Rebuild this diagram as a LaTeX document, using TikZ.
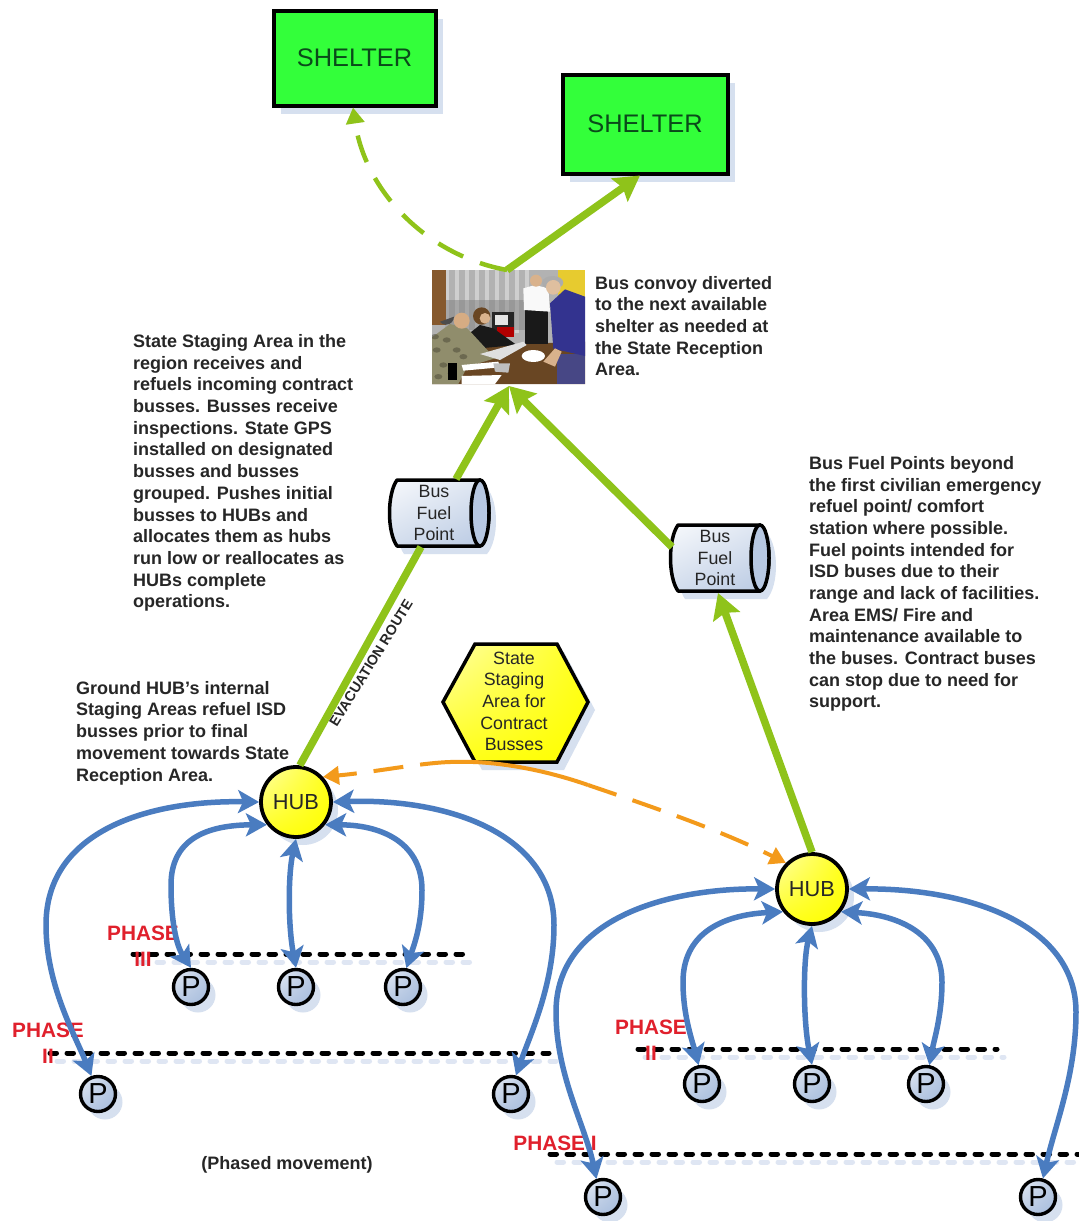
\documentclass[tikz,border=0pt]{standalone}
\usepackage{fontspec}
\setmainfont{Liberation Sans}
\usetikzlibrary{shapes.geometric,shadows,shadings,arrows.meta,calc}
\definecolor{shadowblue}{HTML}{D6E0EF}
\definecolor{dashshadow}{HTML}{DFE6F3}
\definecolor{routegreen}{HTML}{8FC31A}
\definecolor{flowblue}{HTML}{4A7CC0}
\definecolor{flagorange}{HTML}{F39A1B}
\definecolor{phasered}{HTML}{E0202C}
\definecolor{inktext}{HTML}{262626}
\definecolor{shelterfill}{HTML}{33FF3A}
\definecolor{shelterink}{HTML}{0A4A1A}
\definecolor{cylend}{HTML}{B7C8E2}
\tikzset{
  shd/.style={drop shadow={shadow xshift=7pt,shadow yshift=-8pt,fill=shadowblue,opacity=1}},
  shelterbox/.style={rectangle,draw=black,line width=4pt,fill=shelterfill,inner sep=0pt,text=shelterink,
    font=\fontsize{25.4}{28}\selectfont,shd},
  hubnode/.style={circle,draw=black,line width=3.8pt,minimum size=70pt,inner sep=0pt,text=inktext,shd,
    upper left=yellow!35!white,upper right=yellow!90!white,lower left=yellow!90!white,lower right=yellow,
    font=\fontsize{21.8}{24}\selectfont},
  pnode/.style={circle,draw=black,line width=3.4pt,minimum size=35pt,inner sep=0pt,text=black,shd,
    upper left=cylend!35!white,upper right=cylend,lower left=cylend,lower right=cylend!85!flowblue,
    font=\fontsize{29}{30}\selectfont},
  cylbody/.style={draw=black,line width=3.5pt,line join=round,shd,
    upper left=cylend!10!white,upper right=cylend!50!white,lower left=cylend!60!white,lower right=cylend},
  cylcap/.style={fill=cylend,draw=black,line width=3.5pt},
  celltext/.style={align=center,text=inktext,font=\fontsize{17.8}{21.67}\selectfont,inner sep=0pt},
  notetext/.style={align=left,anchor=west,inner sep=0pt,text=inktext,font=\fontsize{18}{21.67}\selectfont\bfseries},
  phaselabel/.style={align=center,text=phasered,inner sep=0pt,font=\fontsize{20.8}{26}\selectfont\bfseries},
  phasedash/.style={line width=5pt,line cap=round,dash pattern=on 6.5pt off 10.5pt,draw=black},
  phaseshadow/.style={line width=5pt,line cap=round,dash pattern=on 6.5pt off 10.5pt,draw=dashshadow},
  flow/.style={draw=flowblue,line width=5.5pt,{Stealth[length=21pt,width=23pt,inset=5pt]}-{Stealth[length=21pt,width=23pt,inset=5pt]}},
  route/.style={draw=routegreen,line width=7.5pt},
  routehead/.style={route,-{Stealth[length=25pt,width=28pt,inset=4pt]}},
  altroute/.style={draw=routegreen,line width=4.5pt,dash pattern=on 28pt off 18pt,-{Triangle[length=16pt,width=18pt]}},
  flag/.style={draw=flagorange,line width=4pt},
}
\begin{document}
\begin{tikzpicture}[x=1pt,y=-1pt]
\useasboundingbox (0,0) rectangle (1079,1221);
\fill[white] (0,0) rectangle (1079,1221);

% shelters
\node[shelterbox,minimum width=162pt,minimum height=95pt] (shelterA) at (354.5,58) {SHELTER};
\node[shelterbox,minimum width=165pt,minimum height=99pt] (shelterB) at (645,124) {SHELTER};

% photo
\coordinate (photoS) at (509,386);
\coordinate (photoN) at (507,270);
\begin{scope}
\clip (432,270) rectangle (585,384);
\begin{scope}[shift={(380,250)},x=0.33333pt,y=-0.33333pt]
\fill[gray!60] (156,60) rectangle (615,402);
\foreach \i in {195,225,...,450}{\fill[gray!38] (\i,60) rectangle ++(13,190);}
\fill[black!50,opacity=.5] (195,150) rectangle (450,240);
\fill[brown!70!black] (156,60) rectangle (197,225);
\fill[yellow!60!brown] (535,60) rectangle (615,160);
% table
\fill[brown!55!black] (156,402) -- (156,300) -- (340,285) -- (615,275) -- (615,402) -- cycle;
% man in white
\fill[black!90] (435,170) rectangle (505,282);
\fill[white!95!gray] (430,115) -- (465,105) -- (505,115) -- (510,185) -- (432,180) -- cycle;
\fill[brown!60!white] (468,92) circle (18);
% red case
\fill[black!85] (335,185) rectangle (402,262);
\fill[red!70!black] (352,232) rectangle (402,262);
\fill[white!80!gray] (345,195) rectangle (385,225);
% woman
\fill[black!90] (268,250) -- (300,225) -- (340,235) -- (410,285) -- (300,295) -- cycle;
\fill[brown!55!black] (305,198) circle (26);
\fill[brown!60!white] (315,205) circle (16);
% soldier
\fill[olive!25!gray] (156,262) -- (210,222) -- (262,235) -- (345,325) -- (262,350) -- (235,402) -- (156,402) -- cycle;
\foreach \a/\b in {170/300,200/270,230/300,190/345,215/370,175/380,250/320,165/260}{\fill[olive!30!black,opacity=.45] (\a,\b) ellipse (12 and 8);}
\fill[brown!65!white] (245,212) circle (24);
\fill[black!70] (222,200) arc (180:320:-24);
\fill[black] (205,340) rectangle (230,390);
% papers and laptop
\fill[white] (245,345) -- (355,335) -- (360,352) -- (250,362) -- cycle;
\fill[white] (245,378) -- (365,375) -- (345,402) -- (245,402) -- cycle;
\fill[gray!25] (300,312) -- (430,275) -- (440,285) -- (360,330) -- cycle;
\fill[gray!50] (340,340) -- (390,340) -- (385,368) -- (345,365) -- cycle;
\fill[white] (460,318) ellipse (35 and 18);
% man in blue
\fill[blue!30!gray!80!black] (530,312) -- (615,312) -- (615,402) -- (530,402) -- cycle;
\fill[blue!45!black!80] (510,160) -- (555,118) -- (615,140) -- (615,318) -- (520,296) -- cycle;
\fill[brown!60!white] (490,335) -- (525,295) -- (545,305) -- (525,350) -- cycle;
\fill[gray!65] (518,98) ellipse (32 and 20);
\fill[brown!50!white] (520,112) circle (22);
\end{scope}
\end{scope}

% staging hexagon
\coordinate (hexa) at (475,644);
\coordinate (hexb) at (557,644);
\coordinate (hexc) at (588,702);
\coordinate (hexd) at (557,762);
\coordinate (hexe) at (475,762);
\coordinate (hexf) at (443,702);
\path[draw=black,line width=3.5pt,line join=miter,shd,upper left=yellow!35!white,upper right=yellow!90!white,lower left=yellow!90!white,lower right=yellow]
  (hexa) -- (hexb) -- (hexc) -- (hexd) -- (hexe) -- (hexf) -- cycle;
\node[celltext] (staging) at (514,701.5) {State\\Staging\\Area for\\Contract\\Busses};

% fuel points
\path[cylbody] (480,480) -- (397,480) .. controls (387,494) and (387,532) .. (397,546) -- (480,546)
  .. controls (492,532) and (492,494) .. (480,480) -- cycle;
\fill[cylcap] (480,513) ellipse (9 and 33);
\node[celltext] (cylA) at (434,513) {Bus\\Fuel\\Point};
\path[cylbody] (760,525) -- (678,525) .. controls (668,539) and (668,577) .. (678,591) -- (760,591)
  .. controls (772,577) and (772,539) .. (760,525) -- cycle;
\fill[cylcap] (760,558) ellipse (9 and 33);
\node[celltext] (cylB) at (715,558) {Bus\\Fuel\\Point};

% hubs
\node[hubnode] (hubA) at (296,802) {HUB};
\node[hubnode] (hubB) at (812,889) {HUB};

% parking nodes
\node[pnode] (pa) at (191,987) {P};
\node[pnode] (pb) at (296,987) {P};
\node[pnode] (pc) at (403,987) {P};
\node[pnode] (pd) at (98,1094) {P};
\node[pnode] (pe) at (511,1094) {P};
\node[pnode] (pf) at (702,1084) {P};
\node[pnode] (pg) at (812,1084) {P};
\node[pnode] (ph) at (926,1084) {P};
\node[pnode] (pi) at (603,1197) {P};
\node[pnode] (pj) at (1038,1197) {P};

% phase lines
\coordinate (lineAa) at (133,954); \coordinate (lineAb) at (472,954);
\coordinate (lineBa) at (50,1053); \coordinate (lineBb) at (549,1053);
\coordinate (lineCa) at (638,1049); \coordinate (lineCb) at (997,1049);
\coordinate (lineDa) at (550,1154); \coordinate (lineDb) at (1079,1154);
\foreach \a/\b in {lineAa/lineAb,lineBa/lineBb,lineCa/lineCb,lineDa/lineDb}{
  \draw[phaseshadow] ($(\a)+(7,8)$) -- ($(\b)+(7,8)$);
  \draw[phasedash] (\a) -- (\b);
}

% phase labels
\node[phaselabel] (phaseC) at (143,946) {PHASE\\III};
\node[phaselabel] (phaseBa) at (48,1043) {PHASE\\II};
\node[phaselabel] (phaseBb) at (651,1040) {PHASE\\II};
\node[phaselabel] (phaseA) at (555,1143) {PHASE I};

% flows, first hub
\draw[flow] (hubA.180) .. controls (150,800) and (46,830) .. (46,925) .. controls (46,985) and (75,1035) .. (pd.110);
\draw[flow] (hubA.218) .. controls (205,825) and (171,840) .. (171,885) .. controls (171,920) and (176,945) .. (pa.90);
\draw[flow] (hubA.270) .. controls (288,875) and (288,925) .. (pb.90);
\draw[flow] (hubA.322) .. controls (385,825) and (422,845) .. (422,890) .. controls (422,925) and (414,945) .. (pc.80);
\draw[flow] (hubA.0) .. controls (450,798) and (554,835) .. (554,925) .. controls (554,985) and (530,1035) .. (pe.75);
% flows, second hub
\draw[flow] (hubB.180) .. controls (665,888) and (556,920) .. (556,1012) .. controls (556,1075) and (585,1125) .. (pi.110);
\draw[flow] (hubB.218) .. controls (720,915) and (683,935) .. (683,982) .. controls (683,1015) and (692,1040) .. (pf.100);
\draw[flow] (hubB.270) .. controls (803,960) and (803,1020) .. (pg.90);
\draw[flow] (hubB.322) .. controls (900,915) and (942,935) .. (942,982) .. controls (942,1015) and (934,1040) .. (ph.80);
\draw[flow] (hubB.0) .. controls (970,888) and (1076,925) .. (1076,1012) .. controls (1076,1075) and (1055,1125) .. (pj.75);

% evacuation routes
\coordinate (cylAin) at (421,547);
\coordinate (cylAout) at (456,479);
\coordinate (cylBin) at (718,593);
\coordinate (cylBout) at (672,547);
\draw[route] (hubA.84) -- (cylAin);
\draw[routehead] (cylAout) -- (photoS);
\draw[routehead] (cylBout) -- (photoS);
\draw[routehead] (hubB.90) -- (cylBin);
\draw[routehead] (photoN) -- ([xshift=-5pt]shelterB.south);
\draw[altroute] (photoN) .. controls (425,255) and (365,190) .. ([xshift=-1.5pt]shelterA.south);

% flag arrow between hubs
\coordinate (flagA) at (588,785);
\coordinate (flagB) at (450,762);
\draw[flag,dash pattern=on 30pt off 17pt,-{Triangle[length=16pt,width=18pt]}] (flagA) .. controls (650,806) and (720,830) .. (hubB.135);
\draw[flag] (flagA) .. controls (545,770) and (495,760) .. (flagB);
\draw[flag,dash pattern=on 30pt off 17pt,-{Triangle[length=16pt,width=18pt]}] (flagB) .. controls (420,763) and (375,772) .. (hubA.43);

% texts
\node[notetext] (noteState) at (133,473) {State Staging Area in the\\region receives and\\refuels incoming contract\\busses. Busses receive\\inspections. State GPS\\installed on designated\\busses and busses\\grouped. Pushes initial\\busses to HUBs and\\allocates them as hubs\\run low or reallocates as\\HUBs complete\\operations.};
\node[notetext] (noteHub) at (76,733) {Ground HUB's internal\\Staging Areas refuel ISD\\busses prior to final\\movement towards State\\Reception Area.};
\node[notetext] (noteConvoy) at (595,326) {Bus convoy diverted\\to the next available\\shelter as needed at\\the State Reception\\Area.};
\node[notetext] (noteFuel) at (809,584) {Bus Fuel Points beyond\\the first civilian emergency\\refuel point/ comfort\\station where possible.\\Fuel points intended for\\ISD buses due to their\\range and lack of facilities.\\Area EMS/ Fire and\\maintenance available to\\the buses. Contract buses\\can stop due to need for\\support.};
\node[notetext,anchor=center] (notePhased) at (287,1165) {(Phased movement)};
\node[inner sep=0pt,rotate=58.3,text=inktext,font=\fontsize{14.2}{16}\selectfont\bfseries] (routeLabel) at (371,663) {EVACUATION ROUTE};
\end{tikzpicture}
\end{document}
